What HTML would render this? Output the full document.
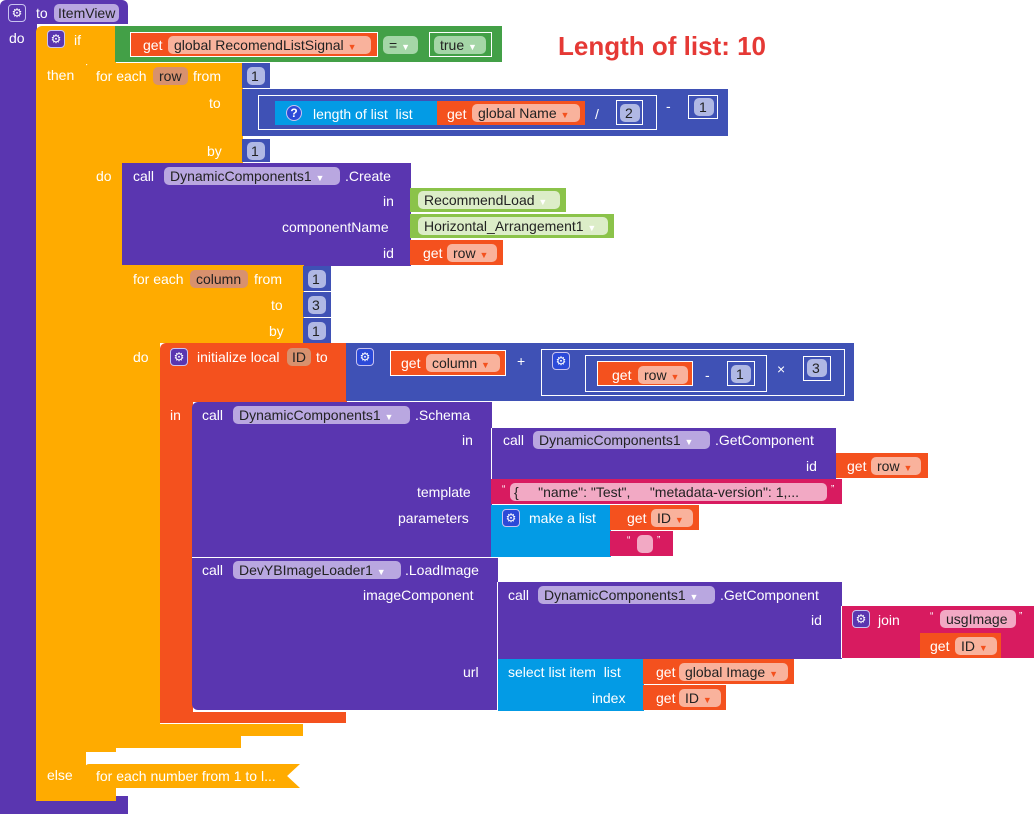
<!DOCTYPE html>
<html><head><meta charset="utf-8"><style>
body{margin:0;width:1034px;height:814px;background:#fff;position:relative;overflow:hidden;font-family:"Liberation Sans",sans-serif;font-size:14px}
.b{position:absolute;box-sizing:border-box}
.t{position:absolute;color:#fff;white-space:nowrap;line-height:16px}
.pl{position:absolute;border-radius:5px;color:#222;white-space:nowrap;line-height:18px;height:18px;padding:0 6px;box-sizing:border-box}
.pu{background:#5a36b0}.or{background:#ffab00}.va{background:#f4511e}.gr{background:#43a047}.lg{background:#8bc34a}
.bl{background:#3f51b5}.lb{background:#039be5}.pk{background:#d81b60}
.ppu{background:#b9a7e0}.pva{background:#f9b29c}.pgr{background:#a5d6a7}.plg{background:#dcedc8}.pbl{background:#b0b8e4}.ppk{background:#f2a9c4}
.ol{position:absolute;border:1px solid #fff;box-sizing:border-box}
.gear{position:absolute;width:18px;height:18px;border-radius:4px;background:#2c4ad8;border:1px solid #c9c3f0;box-sizing:border-box;color:#fff;font-size:12px;line-height:16px;text-align:center}
</style></head><body>
<!-- procedure -->
<div class="b pu" style="left:0;top:0;width:128px;height:24px;border-radius:6px 6px 0 0"></div>
<div class="b pu" style="left:0;top:22px;width:37px;height:792px"></div>
<div class="b pu" style="left:0;top:796px;width:128px;height:18px"></div>
<div class="gear" style="left:8px;top:4px;background:#5a36b0">⚙</div>
<span class="t" style="left:36px;top:5px">to</span>
<div class="pl ppu" style="left:54px;top:4px;padding:0 4px">ItemView</div>
<span class="t" style="left:9px;top:30px">do</span>
<!-- if -->
<div class="b or" style="left:36px;top:26px;width:80px;height:38px;border-radius:6px 0 0 0"></div>
<div class="b or" style="left:36px;top:60px;width:50px;height:740px"></div>
<div class="b or" style="left:36px;top:740px;width:80px;height:12px"></div>
<div class="b or" style="left:36px;top:785px;width:80px;height:16px"></div>
<div class="gear" style="left:47px;top:30px;background:#5a36b0">⚙</div>
<span class="t" style="left:74px;top:32px">if</span>
<span class="t" style="left:47px;top:67px">then</span>
<span class="t" style="left:47px;top:767px">else</span>
<div class="b or" style="left:85px;top:764px;width:215px;height:24px;clip-path:polygon(0 0,100% 0,94% 50%,100% 100%,0 100%);border-radius:4px 0 0 4px"></div>
<span class="t" style="left:96px;top:768px">for each number from 1 to l...</span>
<!-- comparison -->
<div class="b gr" style="left:115px;top:26px;width:387px;height:36px"></div>
<div class="b va" style="left:130px;top:32px;width:248px;height:25px;border:1px solid #fff"></div>
<span class="t" style="left:143px;top:37px">get</span>
<div class="pl pva" style="left:168px;top:36px;width:203px">global RecomendListSignal <span style="color:#f4511e;font-size:9px">▼</span></div>
<div class="pl pgr" style="left:383px;top:36px;width:35px">= <span style="color:#fff;font-size:9px">▼</span></div>
<div class="ol" style="left:429px;top:32px;width:63px;height:25px"></div>
<div class="pl pgr" style="left:434px;top:36px;width:52px">true <span style="color:#fff;font-size:9px">▼</span></div>
<div class="t" style="left:558px;top:31px;color:#e53935;font-size:26px;font-weight:bold;line-height:30px">Length of list: 10</div>
<!-- for each row -->
<div class="b or" style="left:85px;top:63px;width:158px;height:101px;border-radius:6px 0 0 0"></div>
<div class="b or" style="left:85px;top:160px;width:38px;height:580px"></div>
<div class="b or" style="left:85px;top:727px;width:156px;height:21px"></div>
<span class="t" style="left:96px;top:68px">for each</span>
<div class="pl" style="left:153px;top:67px;background:#d8916e;width:35px">row</div>
<span class="t" style="left:193px;top:68px">from</span>
<span class="t" style="left:209px;top:95px">to</span>
<span class="t" style="left:207px;top:143px">by</span>
<span class="t" style="left:96px;top:168px">do</span>
<div class="b bl" style="left:242px;top:63px;width:28px;height:25px"></div>
<div class="pl pbl" style="left:247px;top:67px;width:18px;padding:0 4px">1</div>
<div class="b bl" style="left:242px;top:139px;width:28px;height:23px"></div>
<div class="pl pbl" style="left:247px;top:142px;width:18px;padding:0 4px">1</div>
<div class="b bl" style="left:242px;top:89px;width:486px;height:47px"></div>
<div class="ol" style="left:258px;top:95px;width:399px;height:35px"></div>
<div class="b lb" style="left:275px;top:101px;width:163px;height:24px"></div>
<div class="gear" style="left:286px;top:105px;border-radius:9px;width:16px;height:16px;line-height:14px;font-weight:bold">?</div>
<span class="t" style="left:313px;top:106px">length of list&nbsp; list</span>
<div class="b va" style="left:437px;top:101px;width:148px;height:24px"></div>
<span class="t" style="left:447px;top:106px">get</span>
<div class="pl pva" style="left:472px;top:104px;width:108px">global Name <span style="color:#f4511e;font-size:9px">▼</span></div>
<span class="t" style="left:595px;top:106px">/</span>
<div class="ol" style="left:616px;top:100px;width:27px;height:25px"></div>
<div class="pl pbl" style="left:620px;top:104px;width:20px;padding:0 5px">2</div>
<span class="t" style="left:666px;top:98px">-</span>
<div class="ol" style="left:688px;top:95px;width:30px;height:24px"></div>
<div class="pl pbl" style="left:694px;top:98px;width:20px;padding:0 5px">1</div>
<!-- Create -->
<div class="b pu" style="left:122px;top:163px;width:289px;height:103px"></div>
<span class="t" style="left:133px;top:168px">call</span>
<div class="pl ppu" style="left:164px;top:167px;width:176px">DynamicComponents1 <span style="color:#fff;font-size:9px">▼</span></div>
<span class="t" style="left:345px;top:168px">.Create</span>
<span class="t" style="left:383px;top:193px">in</span>
<span class="t" style="left:282px;top:219px">componentName</span>
<span class="t" style="left:383px;top:245px">id</span>
<div class="b lg" style="left:410px;top:188px;width:156px;height:24px"></div>
<div class="pl plg" style="left:418px;top:191px;width:142px">RecommendLoad <span style="color:#fff;font-size:9px">▼</span></div>
<div class="b lg" style="left:410px;top:214px;width:204px;height:24px"></div>
<div class="pl plg" style="left:418px;top:217px;width:190px">Horizontal_Arrangement1 <span style="color:#fff;font-size:9px">▼</span></div>
<div class="b va" style="left:410px;top:240px;width:93px;height:25px"></div>
<span class="t" style="left:423px;top:245px">get</span>
<div class="pl pva" style="left:447px;top:244px;width:50px">row <span style="color:#f4511e;font-size:9px">▼</span></div>
<!-- for each column -->
<div class="b or" style="left:122px;top:265px;width:182px;height:78px"></div>
<div class="b or" style="left:122px;top:340px;width:38px;height:396px"></div>
<div class="b or" style="left:122px;top:724px;width:181px;height:12px"></div>
<span class="t" style="left:133px;top:271px">for each</span>
<div class="pl" style="left:190px;top:270px;background:#d8916e;width:58px">column</div>
<span class="t" style="left:254px;top:271px">from</span>
<span class="t" style="left:271px;top:297px">to</span>
<span class="t" style="left:269px;top:323px">by</span>
<span class="t" style="left:133px;top:349px">do</span>
<div class="b bl" style="left:303px;top:266px;width:28px;height:25px"></div>
<div class="pl pbl" style="left:308px;top:270px;width:18px;padding:0 4px">1</div>
<div class="b bl" style="left:303px;top:292px;width:28px;height:25px"></div>
<div class="pl pbl" style="left:308px;top:296px;width:18px;padding:0 4px">3</div>
<div class="b bl" style="left:303px;top:318px;width:28px;height:25px"></div>
<div class="pl pbl" style="left:308px;top:322px;width:18px;padding:0 4px">1</div>
<!-- init local -->
<div class="b va" style="left:160px;top:343px;width:187px;height:59px;border-radius:6px 0 0 0"></div>
<div class="b va" style="left:160px;top:400px;width:33px;height:322px"></div>
<div class="b va" style="left:160px;top:712px;width:186px;height:11px"></div>
<div class="gear" style="left:170px;top:348px;background:#5a36b0">⚙</div>
<span class="t" style="left:197px;top:349px">initialize local</span>
<div class="pl" style="left:287px;top:348px;background:#d8916e;width:24px;padding:0 5px">ID</div>
<span class="t" style="left:316px;top:349px">to</span>
<span class="t" style="left:170px;top:407px">in</span>
<div class="b bl" style="left:346px;top:343px;width:508px;height:58px"></div>
<div class="gear" style="left:356px;top:348px">⚙</div>
<div class="b va" style="left:390px;top:350px;width:116px;height:26px;border:1px solid #fff"></div>
<span class="t" style="left:401px;top:355px">get</span>
<div class="pl pva" style="left:426px;top:354px;width:74px">column <span style="color:#f4511e;font-size:9px">▼</span></div>
<span class="t" style="left:517px;top:353px">+</span>
<div class="ol" style="left:541px;top:349px;width:304px;height:47px"></div>
<div class="gear" style="left:552px;top:352px">⚙</div>
<div class="ol" style="left:585px;top:355px;width:182px;height:37px"></div>
<div class="b va" style="left:597px;top:361px;width:96px;height:25px;border:1px solid #fff"></div>
<span class="t" style="left:612px;top:367px">get</span>
<div class="pl pva" style="left:638px;top:366px;width:50px">row <span style="color:#f4511e;font-size:9px">▼</span></div>
<span class="t" style="left:705px;top:367px">-</span>
<div class="ol" style="left:727px;top:361px;width:28px;height:25px"></div>
<div class="pl pbl" style="left:731px;top:365px;width:20px;padding:0 5px">1</div>
<span class="t" style="left:777px;top:361px">×</span>
<div class="ol" style="left:803px;top:356px;width:28px;height:25px"></div>
<div class="pl pbl" style="left:807px;top:359px;width:20px;padding:0 5px">3</div>
<!-- Schema -->
<div class="b pu" style="left:192px;top:402px;width:300px;height:155px;border-radius:6px 0 0 0"></div>
<span class="t" style="left:202px;top:407px">call</span>
<div class="pl ppu" style="left:233px;top:406px;width:177px">DynamicComponents1 <span style="color:#fff;font-size:9px">▼</span></div>
<span class="t" style="left:415px;top:407px">.Schema</span>
<span class="t" style="left:462px;top:432px">in</span>
<span class="t" style="left:417px;top:484px">template</span>
<span class="t" style="left:398px;top:510px">parameters</span>
<div class="b pu" style="left:491px;top:428px;width:345px;height:51px;border-left:1px solid #fff"></div>
<span class="t" style="left:503px;top:432px">call</span>
<div class="pl ppu" style="left:533px;top:431px;width:177px">DynamicComponents1 <span style="color:#fff;font-size:9px">▼</span></div>
<span class="t" style="left:715px;top:432px">.GetComponent</span>
<span class="t" style="left:806px;top:458px">id</span>
<div class="b va" style="left:836px;top:453px;width:92px;height:25px"></div>
<span class="t" style="left:847px;top:458px">get</span>
<div class="pl pva" style="left:871px;top:457px;width:50px">row <span style="color:#f4511e;font-size:9px">▼</span></div>
<div class="b pk" style="left:491px;top:479px;width:351px;height:25px"></div>
<span class="t" style="left:502px;top:482px;font-size:10px">“</span>
<div class="pl ppk" style="left:510px;top:483px;width:317px;padding:0 4px">{&nbsp;&nbsp;&nbsp;&nbsp; "name": "Test",&nbsp;&nbsp;&nbsp;&nbsp; "metadata-version": 1,...</div>
<span class="t" style="left:831px;top:482px;font-size:10px">”</span>
<div class="b lb" style="left:491px;top:505px;width:120px;height:52px"></div>
<div class="gear" style="left:502px;top:509px">⚙</div>
<span class="t" style="left:529px;top:510px">make a list</span>
<div class="b va" style="left:610px;top:505px;width:89px;height:25px"></div>
<span class="t" style="left:627px;top:510px">get</span>
<div class="pl pva" style="left:651px;top:509px;width:42px">ID <span style="color:#f4511e;font-size:9px">▼</span></div>
<div class="b pk" style="left:610px;top:531px;width:63px;height:25px"></div>
<span class="t" style="left:627px;top:533px;font-size:10px">“</span>
<div class="pl ppk" style="left:637px;top:535px;width:16px"></div>
<span class="t" style="left:657px;top:533px;font-size:10px">”</span>
<!-- LoadImage -->
<div class="b pu" style="left:192px;top:557px;width:306px;height:153px;border-top:1px solid #fff;border-radius:0 0 0 6px"></div>
<span class="t" style="left:202px;top:562px">call</span>
<div class="pl ppu" style="left:233px;top:561px;width:168px">DevYBImageLoader1 <span style="color:#fff;font-size:9px">▼</span></div>
<span class="t" style="left:405px;top:562px">.LoadImage</span>
<span class="t" style="left:363px;top:587px">imageComponent</span>
<span class="t" style="left:463px;top:664px">url</span>
<div class="b pu" style="left:497px;top:582px;width:345px;height:77px;border-left:1px solid #fff"></div>
<span class="t" style="left:508px;top:587px">call</span>
<div class="pl ppu" style="left:538px;top:586px;width:177px">DynamicComponents1 <span style="color:#fff;font-size:9px">▼</span></div>
<span class="t" style="left:720px;top:587px">.GetComponent</span>
<span class="t" style="left:811px;top:612px">id</span>
<div class="b pk" style="left:841px;top:606px;width:193px;height:52px;border-left:1px solid #fff"></div>
<div class="gear" style="left:852px;top:610px;background:#5a36b0">⚙</div>
<span class="t" style="left:878px;top:612px">join</span>
<span class="t" style="left:930px;top:609px;font-size:10px">“</span>
<div class="pl ppk" style="left:940px;top:610px;width:76px">usgImage</div>
<span class="t" style="left:1019px;top:609px;font-size:10px">”</span>
<div class="b va" style="left:920px;top:633px;width:81px;height:25px"></div>
<span class="t" style="left:930px;top:638px">get</span>
<div class="pl pva" style="left:955px;top:637px;width:42px">ID <span style="color:#f4511e;font-size:9px">▼</span></div>
<div class="b lb" style="left:497px;top:659px;width:147px;height:52px;border-left:1px solid #fff"></div>
<span class="t" style="left:508px;top:664px">select list item&nbsp; list</span>
<span class="t" style="left:592px;top:690px">index</span>
<div class="b va" style="left:643px;top:659px;width:151px;height:25px"></div>
<span class="t" style="left:656px;top:664px">get</span>
<div class="pl pva" style="left:679px;top:663px;width:109px">global Image <span style="color:#f4511e;font-size:9px">▼</span></div>
<div class="b va" style="left:643px;top:685px;width:83px;height:25px"></div>
<span class="t" style="left:656px;top:690px">get</span>
<div class="pl pva" style="left:679px;top:689px;width:42px">ID <span style="color:#f4511e;font-size:9px">▼</span></div>
</body></html>
